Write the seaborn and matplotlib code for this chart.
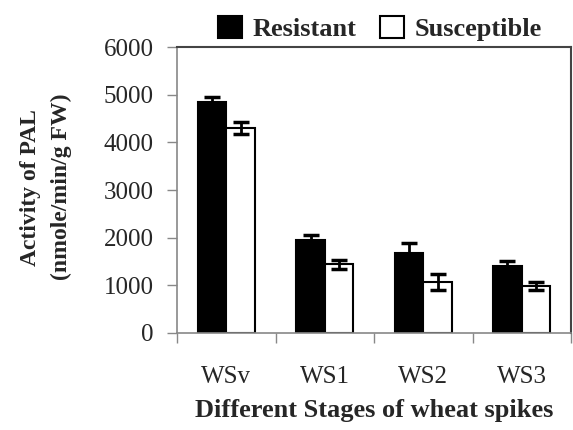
import pandas as pd
import matplotlib
matplotlib.use("Agg")
import matplotlib.pyplot as plt
import seaborn as sns

# values
stages = ["WSv", "WS1", "WS2", "WS3"]
resistant = [4850, 1950, 1670, 1410]
susceptible = [4300, 1440, 1070, 990]
resistant_err = [100, 100, 220, 110]
susceptible_err = [130, 95, 170, 90]

df = pd.DataFrame({
    "stage": stages * 2,
    "group": ["Resistant"] * 4 + ["Susceptible"] * 4,
    "value": resistant + susceptible,
})

sns.set_style("white")
plt.rcParams["font.family"] = ["Liberation Serif", "DejaVu Serif"]

fig = plt.figure(figsize=(5.73, 4.30), dpi=100)
ax = fig.add_axes([0.309, 0.2256, 0.6875, 0.665])

sns.barplot(data=df, x="stage", y="value", hue="group", order=stages,
            hue_order=["Resistant", "Susceptible"],
            palette={"Resistant": "black", "Susceptible": "white"},
            width=0.58, gap=0, edgecolor="black", linewidth=1.5,
            errorbar=None, ax=ax)

# error bars on bar centres
errs = resistant_err + susceptible_err
for bar, err in zip(ax.patches[:8], errs):
    xc = bar.get_x() + bar.get_width() / 2
    ax.errorbar(xc, bar.get_height(), yerr=err, fmt="none", ecolor="black",
                elinewidth=2, capsize=6, capthick=2.5, zorder=5)

ax.set_xlim(-0.5, 3.5)
ax.set_ylim(0, 6000)
ax.set_yticks(range(0, 6001, 1000))
ax.tick_params(axis="y", direction="out", length=7, width=1, color="#888888",
               labelsize=18, pad=10, left=True)
ax.set_xticks([-0.5, 0.5, 1.5, 2.5, 3.5], minor=True)
ax.tick_params(axis="x", which="major", length=0, labelsize=18, pad=24)
ax.tick_params(axis="x", which="minor", direction="out", length=7, width=1,
               color="#888888", bottom=True)

for side in ["left", "bottom"]:
    ax.spines[side].set_color("#888888")
    ax.spines[side].set_linewidth(1.2)
for side in ["top", "right"]:
    ax.spines[side].set_color("#444444")
    ax.spines[side].set_linewidth(1.5)

ax.set_xlabel("Different Stages of wheat spikes", fontsize=19,
              fontweight="bold", labelpad=8)
ax.set_ylabel("Activity of PAL\n(nmole/min/g FW)", fontsize=17,
              fontweight="bold", linespacing=1.6)
ax.yaxis.set_label_coords(-0.266, 0.51)

handles, labels = ax.get_legend_handles_labels()
ax.legend(handles, labels, loc="center", bbox_to_anchor=(0.515, 1.066), ncol=2,
          frameon=False, prop={"weight": "bold", "size": 19},
          handlelength=0.9, handleheight=0.9, handletextpad=0.4,
          columnspacing=0.9)

fig.savefig("out.png", dpi=100)
